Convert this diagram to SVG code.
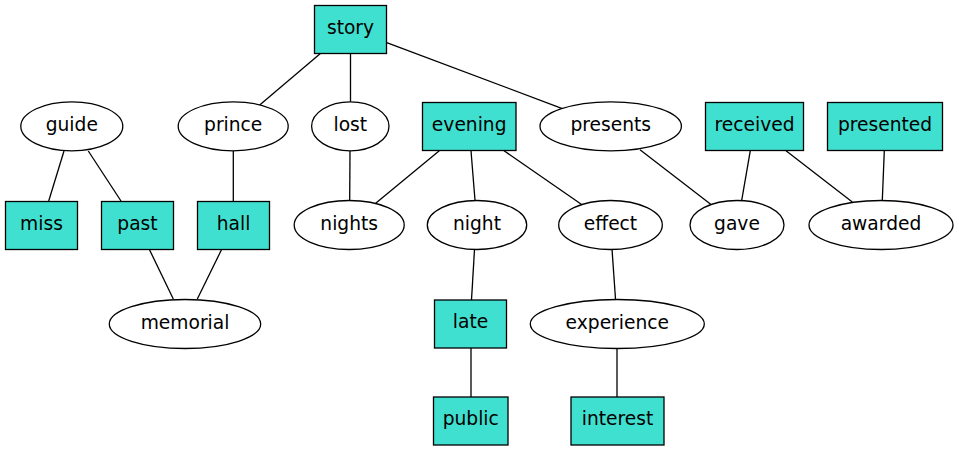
<svg xmlns="http://www.w3.org/2000/svg" width="959" height="451" viewBox="0 0 959 451">
<style>
.box{fill:#40e0d0;stroke:#000;stroke-width:1.3}
.ell{fill:#fff;stroke:#000;stroke-width:1.3}
text{font-family:"DejaVu Sans",sans-serif;font-size:18.67px;text-anchor:middle;fill:#000}
#edges line{stroke:#000;stroke-width:1.3}
</style>
<rect width="959" height="451" fill="#fff"/>
<g id="edges">
<line x1="321" y1="53" x2="259.7" y2="105"/>
<line x1="350.5" y1="53" x2="350.5" y2="101.7"/>
<line x1="386.7" y1="42.7" x2="561.7" y2="108.3"/>
<line x1="64" y1="151" x2="48.7" y2="201"/>
<line x1="88.3" y1="151" x2="121" y2="201"/>
<line x1="233.3" y1="151" x2="233.3" y2="201"/>
<line x1="350" y1="151" x2="349.7" y2="200"/>
<line x1="439.3" y1="150.7" x2="375.7" y2="203.3"/>
<line x1="471" y1="150.7" x2="475" y2="200.3"/>
<line x1="504" y1="150.7" x2="581.3" y2="204.3"/>
<line x1="640" y1="149.7" x2="710.7" y2="204.3"/>
<line x1="750.3" y1="150.7" x2="741.7" y2="200.3"/>
<line x1="786" y1="150.7" x2="852.3" y2="202"/>
<line x1="884.3" y1="150.7" x2="882.3" y2="200.3"/>
<line x1="149.3" y1="249.3" x2="173.3" y2="299"/>
<line x1="221.7" y1="249.3" x2="197.3" y2="299"/>
<line x1="474.5" y1="249.5" x2="471.5" y2="300"/>
<line x1="612" y1="249" x2="615.5" y2="299"/>
<line x1="471" y1="348" x2="471" y2="397"/>
<line x1="617" y1="349" x2="617" y2="397"/>
</g>
<g id="story"><rect class="box" x="314.5" y="5.5" width="72" height="48"/><text x="350.5" y="33.5">story</text></g>
<g id="guide"><ellipse class="ell" cx="71.8" cy="126.3" rx="51" ry="24.5"/><text x="71.8" y="130.8">guide</text></g>
<g id="prince"><ellipse class="ell" cx="233.2" cy="126.3" rx="55" ry="24.5"/><text x="233.2" y="130.8">prince</text></g>
<g id="lost"><ellipse class="ell" cx="350.3" cy="126.3" rx="38.7" ry="24.5"/><text x="350.3" y="130.8">lost</text></g>
<g id="evening"><rect class="box" x="422.5" y="102.5" width="93.5" height="48"/><text x="469.2" y="130.8">evening</text></g>
<g id="presents"><ellipse class="ell" cx="610.7" cy="126.3" rx="70.7" ry="24.5"/><text x="610.7" y="130.8">presents</text></g>
<g id="received"><rect class="box" x="705.5" y="102.5" width="98" height="48"/><text x="754.5" y="130.8">received</text></g>
<g id="presented"><rect class="box" x="827.5" y="102.5" width="115" height="48"/><text x="885" y="130.8">presented</text></g>
<g id="miss"><rect class="box" x="5.5" y="201.5" width="72" height="48"/><text x="41.5" y="229.8">miss</text></g>
<g id="past"><rect class="box" x="101.5" y="201.5" width="72" height="48"/><text x="137.5" y="229.8">past</text></g>
<g id="hall"><rect class="box" x="197.5" y="201.5" width="72" height="48"/><text x="233.5" y="229.8">hall</text></g>
<g id="nights"><ellipse class="ell" cx="349.2" cy="225" rx="55" ry="24.5"/><text x="349.2" y="229.5">nights</text></g>
<g id="night"><ellipse class="ell" cx="477" cy="225" rx="49.7" ry="24.5"/><text x="477" y="229.5">night</text></g>
<g id="effect"><ellipse class="ell" cx="610.5" cy="225" rx="51.8" ry="24.5"/><text x="610.5" y="229.5">effect</text></g>
<g id="gave"><ellipse class="ell" cx="737" cy="225" rx="47" ry="24.5"/><text x="737" y="229.5">gave</text></g>
<g id="awarded"><ellipse class="ell" cx="881" cy="225" rx="72" ry="24.5"/><text x="881" y="229.5">awarded</text></g>
<g id="memorial"><ellipse class="ell" cx="185" cy="324" rx="75.7" ry="24.5"/><text x="185" y="328.5">memorial</text></g>
<g id="late"><rect class="box" x="434.5" y="300" width="72" height="48"/><text x="470.5" y="328.3">late</text></g>
<g id="experience"><ellipse class="ell" cx="617.3" cy="324" rx="87" ry="24.5"/><text x="617.3" y="328.5">experience</text></g>
<g id="public"><rect class="box" x="433.5" y="397" width="74.5" height="48"/><text x="470.7" y="425.3">public</text></g>
<g id="interest"><rect class="box" x="571" y="397" width="93" height="48"/><text x="617.5" y="425.3">interest</text></g>
</svg>
